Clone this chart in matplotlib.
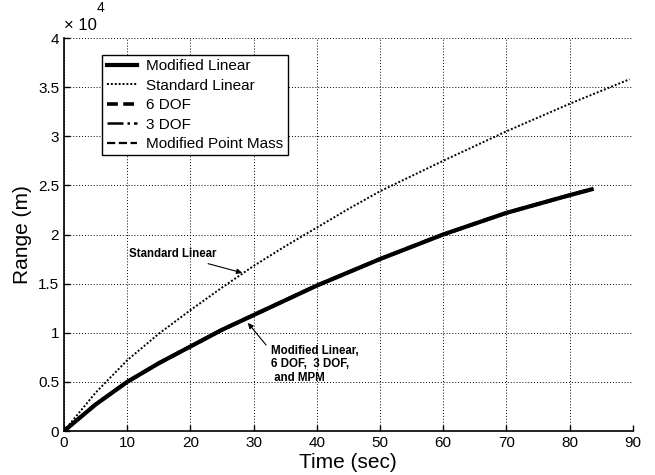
import matplotlib
matplotlib.use("Agg")
import matplotlib.pyplot as plt

# ------------------------------
# Data (range in units of 1e4 m)
# ------------------------------
t_std = [0, 5, 10, 15, 20, 25, 30, 35, 40, 45, 50, 60, 70, 80, 89.5]
range_std = [0, 0.39, 0.72, 0.99, 1.23, 1.46, 1.68, 1.88, 2.07, 2.26, 2.44, 2.75, 3.05, 3.33, 3.58]

t_mod = [0, 5, 10, 15, 20, 25, 30, 40, 50, 60, 70, 80, 83.5]
range_mod_linear = [0, 0.27, 0.50, 0.69, 0.86, 1.03, 1.18, 1.48, 1.75, 2.00, 2.22, 2.40, 2.46]
range_6dof = [0, 0.27, 0.50, 0.69, 0.86, 1.03, 1.18, 1.48, 1.75, 2.00, 2.22, 2.40, 2.46]
range_3dof = [0, 0.27, 0.50, 0.69, 0.86, 1.03, 1.18, 1.48, 1.75, 2.00, 2.22, 2.40, 2.46]
range_mpm = [0, 0.27, 0.50, 0.69, 0.86, 1.03, 1.18, 1.48, 1.75, 2.00, 2.22, 2.40, 2.46]

x_ticks = [0, 10, 20, 30, 40, 50, 60, 70, 80, 90]
y_ticks = [0, 0.5, 1, 1.5, 2, 2.5, 3, 3.5, 4]
y_tick_labels = ["0", "0.5", "1", "1.5", "2", "2.5", "3", "3.5", "4"]

plt.rcParams['font.family'] = ['Liberation Sans', 'DejaVu Sans']

# ------------------------------
# Figure
# ------------------------------
fig = plt.figure(figsize=(6.55, 4.75), dpi=100)
ax = fig.add_axes([0.0977, 0.0926, 0.8683, 0.8274])

ax.plot(t_mod, range_mod_linear, color='black', linewidth=3.0, linestyle='-', label='Modified Linear')
ax.plot(t_std, range_std, color='black', linewidth=1.4, linestyle=(0, (1, 1)), label='Standard Linear')
ax.plot(t_mod, range_6dof, color='black', linewidth=2.6, linestyle=(0, (3, 1.5)), label='6 DOF')
ax.plot(t_mod, range_3dof, color='black', linewidth=1.8, linestyle='-.', label='3 DOF')
ax.plot(t_mod, range_mpm, color='black', linewidth=1.6, linestyle='--', label='Modified Point Mass')

ax.set_xlim(0, 90)
ax.set_ylim(0, 4)
ax.set_xticks(x_ticks)
ax.set_yticks(y_ticks)
ax.set_yticklabels(y_tick_labels)
ax.tick_params(direction='in', length=4, labelsize=11, width=1)
ax.grid(True, color='black', linestyle=(0, (1, 2)), linewidth=0.7)
ax.spines['top'].set_visible(False)
ax.spines['right'].set_visible(False)
ax.spines['left'].set_linewidth(1.2)
ax.spines['bottom'].set_linewidth(1.2)

ax.set_xlabel('Time (sec)', fontsize=15, labelpad=2)
ax.set_ylabel('Range (m)', fontsize=15, labelpad=4)

# x 10^4 multiplier
ax.text(0.0, 1.012, '\u00d7 10', transform=ax.transAxes, fontsize=12, ha='left', va='bottom')
ax.text(0.058, 1.058, '4', transform=ax.transAxes, fontsize=10, ha='left', va='bottom')

leg = ax.legend(loc='upper left', bbox_to_anchor=(0.067, 0.957), fontsize=11, frameon=True,
                fancybox=False, edgecolor='black', framealpha=1, handlelength=2.0,
                borderpad=0.3, labelspacing=0.35, handletextpad=0.6, borderaxespad=0)
leg.get_frame().set_linewidth(1.0)

# annotations
ax.annotate('Standard Linear', xy=(28.2, 1.61), xytext=(10.3, 1.80),
            fontsize=8.3, fontweight='bold', va='center',
            arrowprops=dict(arrowstyle='-|>', color='black', lw=0.8, mutation_scale=8,
                            shrinkA=2, shrinkB=0))
ax.annotate('Modified Linear,\n6 DOF,  3 DOF,\n and MPM', xy=(29.1, 1.10), xytext=(32.7, 0.88),
            fontsize=8.3, fontweight='bold', va='top',
            linespacing=1.2,
            arrowprops=dict(arrowstyle='-|>', color='black', lw=0.8, mutation_scale=8,
                            shrinkA=2, shrinkB=0, relpos=(0.0, 0.85)))

plt.savefig('out.png', dpi=100)
